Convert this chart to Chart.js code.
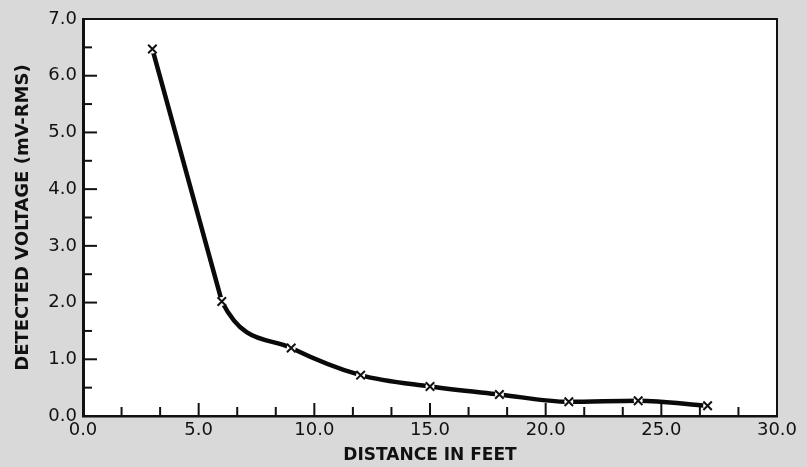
<!DOCTYPE html>
<html>
<head>
<meta charset="utf-8">
<script src="https://cdn.jsdelivr.net/npm/chart.js@4"></script>
<style>
  html, body { margin: 0; padding: 0; background: #d9d9d9; }
  #wrap { width: 807px; height: 467px; }
</style>
</head>
<body>
<div id="wrap"><canvas id="c" width="807" height="467"></canvas></div>
<script>
// ---- data ----
const distanceFeet = [3, 6, 9, 12, 15, 18, 21, 24, 27];
const voltageMv    = [6.47, 2.02, 1.2, 0.72, 0.52, 0.38, 0.25, 0.27, 0.18];

const xTickLabels = [0, 5, 10, 15, 20, 25, 30];
const xMinorStep = 5 / 3;
const yTickLabels = [0, 1, 2, 3, 4, 5, 6, 7];
const yMinorStep = 0.5;

const points = distanceFeet.map((x, i) => ({ x: x, y: voltageMv[i] }));
const firstSegment = points.slice(0, 2);

function buildTicks(labels, step) {
  const min = labels[0], max = labels[labels.length - 1];
  const n = Math.round((max - min) / step);
  const out = [];
  for (let i = 0; i <= n; i++) out.push({ value: min + i * step });
  return out;
}
function isMajor(v, labels) {
  return labels.some(l => Math.abs(l - v) < 1e-6);
}

const framePlugin = {
  id: 'frame',
  beforeDraw(chart) {
    const { ctx, chartArea: a } = chart;
    ctx.save();
    ctx.fillStyle = '#d9d9d9';
    ctx.fillRect(0, 0, chart.width, chart.height);
    ctx.fillStyle = '#ffffff';
    ctx.fillRect(a.left, a.top, a.right - a.left, a.bottom - a.top);
    ctx.restore();
  },
  beforeDatasetsDraw(chart) {
    const { ctx, chartArea: a, scales } = chart;
    ctx.save();
    ctx.strokeStyle = '#111';
    ctx.lineWidth = 2;
    scales.x.ticks.forEach(t => {
      const px = scales.x.getPixelForValue(t.value);
      const len = isMajor(t.value, xTickLabels) ? 13 : 9;
      ctx.beginPath();
      ctx.moveTo(px, a.bottom);
      ctx.lineTo(px, a.bottom - len);
      ctx.stroke();
    });
    scales.y.ticks.forEach(t => {
      const py = scales.y.getPixelForValue(t.value);
      const len = isMajor(t.value, yTickLabels) ? 14 : 9;
      ctx.beginPath();
      ctx.moveTo(a.left, py);
      ctx.lineTo(a.left + len, py);
      ctx.stroke();
    });
    ctx.lineWidth = 2;
    ctx.beginPath();
    ctx.moveTo(a.left, a.top);
    ctx.lineTo(a.right, a.top);
    ctx.lineTo(a.right, a.bottom);
    ctx.stroke();
    ctx.restore();
  }
};

new Chart(document.getElementById('c'), {
  type: 'scatter',
  data: {
    datasets: [
      {
        data: points,
        showLine: true,
        borderColor: '#0a0a0a',
        borderWidth: 4.5,
        cubicInterpolationMode: 'monotone',
        segment: {
          borderColor: ctx => ctx.p0DataIndex === 0 ? 'rgba(0,0,0,0)' : undefined
        },
        pointRadius: 0,
        order: 4
      },
      {
        data: firstSegment,
        showLine: true,
        borderColor: '#0a0a0a',
        borderWidth: 4.5,
        tension: 0,
        pointRadius: 0,
        order: 3
      },
      {
        data: points,
        showLine: false,
        pointStyle: 'circle',
        pointRadius: 4.5,
        pointBorderWidth: 0,
        pointBackgroundColor: '#ffffff',
        pointBorderColor: '#ffffff',
        order: 2
      },
      {
        data: points,
        showLine: false,
        pointStyle: 'crossRot',
        pointRadius: 6,
        pointBorderWidth: 2,
        pointBorderColor: '#111',
        pointBackgroundColor: '#111',
        order: 1
      }
    ]
  },
  options: {
    responsive: false,
    animation: false,
    events: [],
    layout: { padding: { top: 19, right: 30, left: 0, bottom: 0 } },
    plugins: { legend: { display: false }, tooltip: { enabled: false } },
    scales: {
      x: {
        type: 'linear',
        min: 0, max: 30,
        afterBuildTicks(scale) { scale.ticks = buildTicks(xTickLabels, xMinorStep); },
        afterFit(scale) { scale.height = 51; },
        grid: { display: true, drawOnChartArea: false, drawTicks: false },
        border: { display: true, color: '#111', width: 2.5 },
        ticks: {
          autoSkip: false, maxRotation: 0, padding: 4,
          color: '#111',
          font: { family: 'DejaVu Sans', size: 18 },
          callback(v) { return isMajor(v, xTickLabels) ? Number(v).toFixed(1) : ''; }
        },
        title: {
          display: true, text: 'DISTANCE IN FEET', color: '#111',
          font: { family: 'DejaVu Sans', size: 17, weight: 'bold' },
          padding: { top: 0, bottom: 1 }
        }
      },
      y: {
        type: 'linear',
        min: 0, max: 7,
        afterBuildTicks(scale) { scale.ticks = buildTicks(yTickLabels, yMinorStep); },
        afterFit(scale) { scale.width = 83; },
        grid: { display: true, drawOnChartArea: false, drawTicks: false },
        border: { display: true, color: '#111', width: 3 },
        ticks: {
          autoSkip: false, padding: 6,
          color: '#111',
          font: { family: 'DejaVu Sans', size: 18 },
          callback(v) { return isMajor(v, yTickLabels) ? Number(v).toFixed(1) : ''; }
        },
        title: {
          display: true, text: 'DETECTED VOLTAGE (mV-RMS)', color: '#111',
          font: { family: 'DejaVu Sans', size: 18, weight: 'bold' },
          padding: { top: 13, bottom: 0 }
        }
      }
    }
  },
  plugins: [framePlugin]
});
</script>
</body>
</html>
